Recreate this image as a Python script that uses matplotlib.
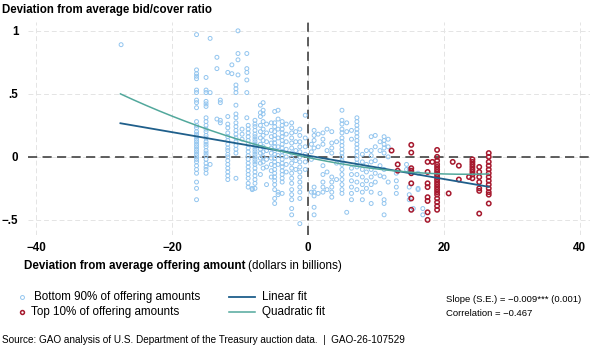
import numpy as np
import matplotlib
matplotlib.use("Agg")
import matplotlib.pyplot as plt
from matplotlib.lines import Line2D

plt.rcParams['font.family'] = ['Liberation Sans', 'DejaVu Sans']

# bottom 90% of offering amounts: (x, [y values]) read column by column
bottom_cols = [
    (-27.5, [0.89]),
    (-16.4, [0.97, 0.69, 0.66, 0.64, 0.62, 0.53, 0.51, 0.45, 0.43, 0.39, 0.28, 0.25, 0.23, 0.20, 0.18, 0.16,
             0.14, 0.12, 0.10, 0.08, 0.06, 0.04, 0.02, 0.0, -0.02, -0.04, -0.07, -0.10, -0.13, -0.20, -0.25, -0.34]),
    (-15.0, [0.63, 0.53, 0.51, 0.44, 0.42, 0.40, 0.31, 0.28, 0.25, 0.22, 0.20, 0.17, 0.15, 0.12, 0.10, 0.08,
             0.05, 0.03, 0.01, -0.02, -0.05, -0.08, -0.10, -0.13]),
    (-14.4, [0.94, 0.51, -0.06]),
    (-13.4, [0.79, 0.70, 0.30]),
    (-12.9, [0.45, 0.43, 0.29, 0.27]),
    (-11.8, [0.67, 0.32, 0.26, 0.23, 0.19, 0.16, 0.13, 0.10, 0.07, 0.05, 0.02, 0.0, -0.03, -0.06, -0.09, -0.12,
             -0.15, -0.18]),
    (-11.2, [0.73, 0.66]),
    (-10.6, [0.57, 0.54, 0.51, 0.41, 0.34, 0.31, 0.27, 0.24, 0.21, 0.18, 0.15, 0.12, 0.09, 0.06, 0.03, -0.17]),
    (-10.3, [1.0, 0.82, 0.77, 0.65]),
    (-9.7, [0.22, 0.18, 0.14]),
    (-9.0, [0.82, 0.70, 0.67, 0.61, 0.51, 0.31]),
    (-8.8, [0.25, 0.22, 0.19, 0.16, 0.13, 0.10, 0.07, 0.04, 0.01, -0.02, -0.05, -0.08, -0.11, -0.14, -0.17,
            -0.21, -0.24]),
    (-8.2, [-0.25, -0.26]),
    (-7.8, [0.29, 0.26, 0.24, 0.21, 0.18, 0.16, 0.14, 0.12, 0.10, 0.08, 0.06, 0.04, 0.02, 0.0, -0.02, -0.04,
            -0.06, -0.09, -0.12, -0.15, -0.18, -0.21, -0.25]),
    (-7.0, [0.41, 0.35, 0.32, 0.25, 0.20, 0.15, 0.10, 0.06, 0.03, -0.01, -0.05, -0.14]),
    (-6.6, [0.43, 0.37, 0.34, 0.28, 0.22, 0.17, 0.13, 0.08, 0.04, 0.0, -0.04, -0.09]),
    (-6.1, [0.26, 0.19, 0.12, 0.05, -0.02, -0.08, -0.22]),
    (-5.4, [0.27, 0.21, 0.16, 0.11, 0.07, 0.03, -0.01, -0.06, -0.11, -0.16]),
    (-4.9, [0.36, 0.27, 0.24, 0.20, 0.17, 0.14, 0.11, 0.08, 0.05, 0.02, -0.01, -0.04, -0.07, -0.10, -0.13,
            -0.16, -0.19, -0.22, -0.26, -0.33, -0.37]),
    (-4.4, [0.37, 0.30, 0.22, 0.15, 0.08, 0.01, -0.06, -0.28, -0.30]),
    (-3.8, [0.28, 0.25, 0.22, 0.19, 0.16, 0.13, 0.10, 0.07, 0.04, 0.01, -0.02, -0.05, -0.08, -0.11, -0.14,
            -0.17, -0.20, -0.29]),
    (-3.2, [0.26, 0.18, 0.12, 0.06, 0.0, -0.06, -0.12]),
    (-2.4, [0.27, 0.23, 0.19, 0.15, 0.11, 0.07, 0.03, -0.01, -0.05, -0.09, -0.13, -0.17, -0.21, -0.26, -0.30,
            -0.34, -0.41, -0.46]),
    (-1.8, [0.20, 0.12, 0.05, -0.03, -0.10]),
    (-1.2, [0.22, 0.17, 0.12, 0.08, 0.04, 0.0, -0.04, -0.08, -0.12, -0.16, -0.20, -0.24, -0.28, -0.33, -0.53]),
    (-0.4, [0.33, 0.15, 0.08, 0.02, -0.04, -0.10]),
    (0.5, [0.10, 0.04, -0.02, -0.28]),
    (0.9, [0.21, 0.17, 0.13, 0.07, -0.24, -0.28, -0.31, -0.40, -0.46]),
    (1.5, [0.18, 0.08, -0.29]),
    (2.2, [0.19, 0.14, 0.10, -0.07, -0.14, -0.20, -0.24, -0.28]),
    (2.8, [0.22, 0.05, -0.12, -0.26]),
    (3.5, [0.20, 0.11, 0.07, 0.03, -0.16, -0.20, -0.24, -0.28, -0.32]),
    (4.2, [0.12, -0.05, -0.18]),
    (5.0, [0.37, 0.29, 0.26, 0.22, 0.19, 0.15, 0.12, 0.09, 0.06, 0.03, 0.0, -0.03, -0.06, -0.10, -0.14,
           -0.18, -0.22, -0.26, -0.29]),
    (5.7, [0.27, 0.20, -0.44]),
    (6.4, [0.21, 0.14, -0.09, -0.14, -0.19, -0.24, -0.29, -0.34]),
    (7.2, [0.31, 0.28, 0.25, 0.22, 0.19, 0.16, 0.13, 0.10, 0.07, 0.04, 0.01, -0.02, -0.05, -0.08, -0.14,
           -0.20, -0.26]),
    (8.0, [0.02, -0.04, -0.10, -0.16, -0.22, -0.28, -0.34]),
    (8.6, [0.05, -0.06, -0.12, -0.19, -0.25]),
    (9.3, [0.16, 0.05, 0.01, -0.04, -0.10, -0.16, -0.22, -0.28, -0.37]),
    (9.9, [0.17, 0.08, -0.03, -0.13, -0.20]),
    (10.6, [0.12, 0.05, -0.07, -0.15, -0.29]),
    (11.2, [0.16, 0.13, 0.10, 0.07, 0.03, -0.10, -0.16, -0.34, -0.37, -0.46]),
    (11.8, [0.14, 0.08, 0.0, -0.20]),
    (13.0, [-0.13, -0.19, -0.24, -0.29]),
    (14.5, [-0.06, -0.10]),
    (14.9, [-0.10, -0.24, -0.30, -0.34]),
    (15.5, [-0.41]),
    (16.2, [-0.13, -0.25, -0.26]),
    (16.9, [-0.41, -0.46]),
]

# top 10% of offering amounts
top_cols = [
    (12.3, [0.05]),
    (13.2, [-0.06, -0.11]),
    (15.2, [0.095, 0.034, -0.09, -0.11, -0.13, -0.21, -0.33, -0.42]),
    (17.6, [-0.04, -0.12, -0.21, -0.24, -0.32, -0.35, -0.44, -0.50]),
    (18.3, [-0.04]),
    (19.0, [0.055, 0.0, -0.03, -0.06, -0.08, -0.10, -0.12, -0.14, -0.16, -0.18, -0.20, -0.22, -0.24, -0.26,
            -0.28, -0.30, -0.33, -0.36, -0.39, -0.42]),
    (20.7, [-0.29]),
    (21.3, [-0.04]),
    (22.2, [-0.07, -0.18]),
    (23.7, [-0.16]),
    (24.2, [-0.02, -0.04, -0.06, -0.08, -0.10, -0.12, -0.14, -0.17]),
    (25.2, [-0.08, -0.12, -0.16, -0.20, -0.25, -0.27, -0.45]),
    (26.6, [0.03, 0.0, -0.04, -0.07, -0.10, -0.13, -0.16, -0.19, -0.22, -0.25, -0.28, -0.30, -0.37]),
]

# fitted curves (coefficients), over the data range
lin_coef = [-0.0093, 0.01]
quad_coef = [0.000247, -0.01147, -0.005]
fit_range = [-27.6, 26.6]

xticks = [-40, -20, 0, 20, 40]
xtick_labels = ['\u221240', '\u221220', '0', '20', '40']
yticks = [1, 0.5, 0, -0.5]
ytick_labels = ['1', '.5', '0', '\u2212.5']

blue = '#92c5ef'
red = '#a6192e'
lin_col = '#1f5f8b'
quad_col = '#52a89c'
fs = 8.4


def flatten(cols):
    xs, ys = [], []
    for x, yl in cols:
        xs += [x] * len(yl)
        ys += yl
    return xs, ys


bx, by = flatten(bottom_cols)
tx, ty = flatten(top_cols)

fig = plt.figure(figsize=(6, 3.48), dpi=100)
ax = fig.add_axes([28 / 600, 1 - 235 / 348, 562 / 600, 213 / 348])

ax.scatter(bx, by, s=8, facecolors='none', edgecolors=blue, linewidths=0.7, zorder=3)
ax.scatter(tx, ty, s=10, facecolors='none', edgecolors=red, linewidths=1.1, zorder=4)

xx = np.linspace(fit_range[0], fit_range[1], 200)
ax.plot(xx, np.polyval(lin_coef, xx), color=lin_col, lw=1.3, zorder=5)
ax.plot(xx, np.polyval(quad_coef, xx), color=quad_col, lw=1.1, zorder=5)

ax.axhline(0, color='#333333', lw=1.1, dashes=(6, 3.5), zorder=2)
ax.axvline(0, color='#333333', lw=1.1, dashes=(6, 3.5), zorder=2)

ax.set_xlim(-41.2, 41.5)
ax.set_ylim(-0.62, 1.07)
ax.set_xticks(xticks)
ax.set_xticklabels(xtick_labels)
ax.set_yticks(yticks)
ax.set_yticklabels(ytick_labels)
ax.tick_params(axis='x', length=0, labelsize=fs, pad=5)
ax.tick_params(axis='y', length=0, labelsize=fs, pad=7)
for lab in ax.get_xticklabels() + ax.get_yticklabels():
    lab.set_fontweight('bold')
ax.grid(True, color='#e4e4e4', lw=0.7, ls=(0, (5, 3)), zorder=0)
for s in ax.spines.values():
    s.set_visible(False)

fig.text(2 / 600, 1 - 10 / 348, 'Deviation from average bid/cover ratio', fontsize=8.3,
         fontweight='bold', va='center', ha='left')
t = fig.text(24 / 600, 1 - 266 / 348, 'Deviation from average offering amount', fontsize=fs,
             fontweight='bold', va='center', ha='left')
fig.canvas.draw()
bb = t.get_window_extent()
fig.text(bb.x1 / 600 + 2.5 / 600, 1 - 266 / 348, '(dollars in billions)', fontsize=fs,
         va='center', ha='left')

# legend, drawn by hand
rows = [1 - 297 / 348, 1 - 311.5 / 348]
fig.add_artist(Line2D([22 / 600], [rows[0]], marker='o', ms=2.8, mfc='none', mec=blue, mew=0.7,
                      transform=fig.transFigure))
fig.add_artist(Line2D([22 / 600], [rows[1]], marker='o', ms=2.8, mfc='none', mec=red, mew=1.1,
                      transform=fig.transFigure))
fig.text(34 / 600, rows[0], 'Bottom 90% of offering amounts', fontsize=fs, va='center')
fig.text(31 / 600, rows[1], 'Top 10% of offering amounts', fontsize=fs, va='center')
fig.add_artist(Line2D([229 / 600, 255 / 600], [rows[0], rows[0]], color=lin_col, lw=1.3,
                      transform=fig.transFigure))
fig.add_artist(Line2D([229 / 600, 255 / 600], [rows[1], rows[1]], color=quad_col, lw=1.1,
                      transform=fig.transFigure))
fig.text(262 / 600, rows[0], 'Linear fit', fontsize=fs, va='center')
fig.text(262 / 600, rows[1], 'Quadratic fit', fontsize=fs, va='center')
fig.text(446 / 600, 1 - 300 / 348, 'Slope (S.E.) = \u22120.009*** (0.001)', fontsize=6.8, va='center')
fig.text(446 / 600, 1 - 314 / 348, 'Correlation = \u22120.467', fontsize=6.8, va='center')

fig.text(2 / 600, 1 - 340 / 348,
         'Source: GAO analysis of U.S. Department of the Treasury auction data.  |  GAO-26-107529',
         fontsize=7.2, va='center')

fig.savefig('out.png', dpi=100)
